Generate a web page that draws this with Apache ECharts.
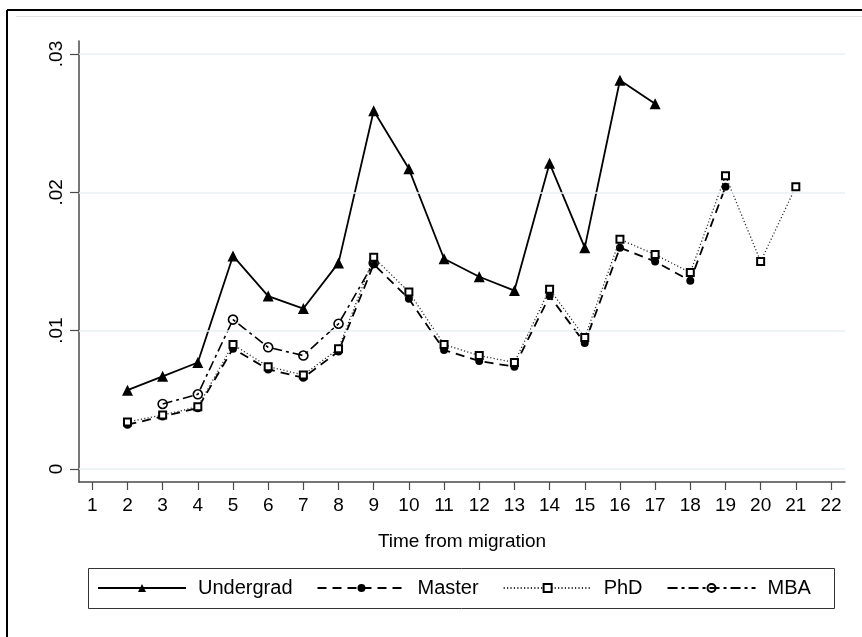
<!DOCTYPE html>
<html>
<head>
<meta charset="utf-8">
<script src="https://cdn.jsdelivr.net/npm/echarts@6/dist/echarts.min.js"></script>
<style>
  html, body { margin: 0; padding: 0; background: #fff; }
  #chart { width: 862px; height: 637px; }
</style>
</head>
<body>
<div id="chart"></div>
<script>
// Time from migration (x) for every observation
const periods = [2, 3, 4, 5, 6, 7, 8, 9, 10, 11, 12, 13, 14, 15, 16, 17, 18, 19, 20, 21];

// Series values by degree
const undergrad = [0.0057, 0.0067, 0.0077, 0.0154, 0.0125, 0.0116, 0.0149, 0.0259, 0.0217, 0.0152,
                   0.0139, 0.0129, 0.0221, 0.0160, 0.0281, 0.0264, null, null, null, null];
const master    = [0.0032, 0.0038, 0.0044, 0.0087, 0.0072, 0.0066, 0.0085, 0.0148, 0.0123, 0.0086,
                   0.0078, 0.0074, 0.0125, 0.0091, 0.0160, 0.0150, 0.0136, 0.0204, null, null];
const phd       = [0.0034, 0.0039, 0.0045, 0.0090, 0.0074, 0.0068, 0.0087, 0.0153, 0.0128, 0.0090,
                   0.0082, 0.0077, 0.0130, 0.0095, 0.0166, 0.0155, 0.0142, 0.0212, 0.0150, 0.0204];
const mba       = [null, 0.0047, 0.0054, 0.0108, 0.0088, 0.0082, 0.0105, 0.0149, null, null,
                   null, null, null, null, null, null, null, null, null, null];

// Axis ticks and their labels
const xTicks = [1, 2, 3, 4, 5, 6, 7, 8, 9, 10, 11, 12, 13, 14, 15, 16, 17, 18, 19, 20, 21, 22];
const yTicks = [0, 0.01, 0.02, 0.03];
const yTickLabels = ['0', '.01', '.02', '.03'];

const FONT = 'Liberation Sans, Arial, sans-serif';
const AXIS_COLOR = '#4a4a4a';

function pairs(values) {
  return periods.map((p, i) => [p, values[i]]);
}

const chart = echarts.init(document.getElementById('chart'), null, { renderer: 'canvas' });

const option = {
  animation: false,
  backgroundColor: '#fff',
  textStyle: { fontFamily: FONT },
  grid: { left: 79, right: 17, top: 41, bottom: 155, containLabel: false },
  xAxis: {
    type: 'value',
    min: 0.622,
    max: 22.398,
    name: 'Time from migration',
    nameLocation: 'middle',
    nameGap: 50,
    nameTextStyle: { fontSize: 19, color: '#000', fontFamily: FONT },
    axisLine: { show: true, onZero: false, lineStyle: { color: AXIS_COLOR, width: 1.5 } },
    axisTick: { show: true, inside: false, length: 8, customValues: xTicks,
                lineStyle: { color: AXIS_COLOR, width: 1.2 } },
    axisLabel: { customValues: xTicks, fontSize: 19, color: '#000', margin: 14,
                 fontFamily: FONT, formatter: v => String(v) },
    splitLine: { show: false }
  },
  yAxis: {
    type: 'value',
    min: -0.00094,
    max: 0.03094,
    axisLine: { show: true, lineStyle: { color: AXIS_COLOR, width: 1.5 } },
    axisTick: { show: true, inside: false, length: 9, customValues: yTicks,
                lineStyle: { color: AXIS_COLOR, width: 1.2 } },
    axisLabel: {
      customValues: yTicks, fontSize: 19, color: '#000', rotate: 90, margin: 13,
      fontFamily: FONT,
      formatter: v => {
        const i = yTicks.findIndex(t => Math.abs(t - v) < 1e-9);
        return i >= 0 ? yTickLabels[i] : '';
      }
    },
    splitLine: { show: false }
  },
  legend: {
    data: ['Undergrad', 'Master', 'PhD', 'MBA'],
    left: 97,
    top: 578,
    padding: 0,
    itemWidth: 88,
    itemHeight: 10,
    itemGap: 24,
    textStyle: { fontSize: 20, color: '#000', fontFamily: FONT, padding: [0, 0, 0, 7] }
  },
  graphic: [
    // outer frame (top and left edges)
    { type: 'line', z: 0, shape: { x1: 7, y1: 10, x2: 862, y2: 10 },
      style: { stroke: '#000', lineWidth: 2 } },
    { type: 'line', z: 0, shape: { x1: 7, y1: 10, x2: 7, y2: 637 },
      style: { stroke: '#000', lineWidth: 2 } },
    // inner faint rule under the frame
    { type: 'line', z: 0, shape: { x1: 16, y1: 16.5, x2: 862, y2: 16.5 },
      style: { stroke: '#e4e4e4', lineWidth: 1 } },
    // legend box
    { type: 'rect', z: 0, shape: { x: 88.5, y: 568.5, width: 746, height: 40 },
      style: { fill: '#fff', stroke: '#333', lineWidth: 1 } }
  ],
  series: [
    {
      // horizontal grid lines at the y ticks
      name: 'grid',
      type: 'line',
      data: [],
      z: 1,
      silent: true,
      markLine: {
        silent: true,
        symbol: 'none',
        label: { show: false },
        lineStyle: { color: '#e8f0f2', width: 1.5, type: 'solid' },
        data: yTicks.map(v => ({ yAxis: v }))
      }
    },
    {
      name: 'Undergrad',
      type: 'line',
      z: 3,
      data: pairs(undergrad),
      symbol: 'triangle',
      symbolSize: 11,
      lineStyle: { color: '#000', width: 1.8, type: 'solid' },
      itemStyle: { color: '#000' }
    },
    {
      name: 'Master',
      type: 'line',
      z: 3,
      data: pairs(master),
      symbol: 'circle',
      symbolSize: 8,
      lineStyle: { color: '#000', width: 1.8, type: [9, 6] },
      itemStyle: { color: '#000' }
    },
    {
      name: 'PhD',
      type: 'line',
      z: 4,
      data: pairs(phd),
      symbol: 'rect',
      symbolSize: 7,
      lineStyle: { color: '#333', width: 1.3, type: [1.2, 2.2] },
      itemStyle: { color: '#fff', borderColor: '#000', borderWidth: 2 }
    },
    {
      name: 'MBA',
      type: 'line',
      z: 2,
      data: pairs(mba),
      symbol: 'circle',
      symbolSize: 9,
      lineStyle: { color: '#000', width: 1.6, type: [10, 4, 3, 4] },
      itemStyle: { color: 'rgba(255,255,255,0)', borderColor: '#000', borderWidth: 1.6 }
    }
  ]
};

chart.setOption(option);
</script>
</body>
</html>
